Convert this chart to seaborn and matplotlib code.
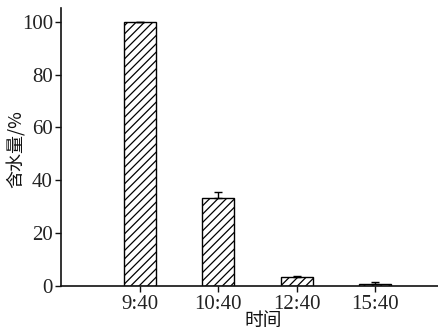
import matplotlib
matplotlib.use("Agg")
import matplotlib.pyplot as plt
import seaborn as sns
import pandas as pd

times = ["9:40", "10:40", "12:40", "15:40"]
water = [100.0, 33.3, 3.5, 1.0]
water_err = [0.0, 2.3, 0.6, 0.5]
yticks = [0, 20, 40, 60, 80, 100]

sns.set_style("ticks")
plt.rcParams["font.family"] = ["Liberation Serif", "Noto Sans CJK SC"]
plt.rcParams["hatch.linewidth"] = 0.9

df = pd.DataFrame({"time": times, "water": water})

fig, ax = plt.subplots(figsize=(4.38, 3.33), dpi=100)
fig.subplots_adjust(left=0.14, right=1.0, bottom=0.14, top=0.975)

sns.barplot(data=df, x="time", y="water", ax=ax, color="white",
            edgecolor="black", linewidth=1.0, width=0.41,
            hatch="////", errorbar=None)

ax.errorbar(range(len(times)), water, yerr=[[0] * len(times), water_err],
            fmt="none", ecolor="black", elinewidth=1.0, capsize=3, capthick=1.0)

ax.set_xlim(-1.0, 3.8)
ax.set_ylim(0, 105)
ax.set_yticks(yticks)
ax.tick_params(axis="both", labelsize=15, direction="out", length=4,
               width=1.0, colors="#111111", labelcolor="#222222", pad=2)
ax.set_xlabel("时间", fontsize=13.5, family=["Noto Sans CJK SC"], color="#111111")
ax.set_ylabel("含水量/%", fontsize=13, family=["Noto Sans CJK SC", "Liberation Serif"],
              color="#111111")
ax.xaxis.set_label_coords(0.535, -0.085)
ax.yaxis.set_label_coords(-0.095, 0.495)
for s in ["top", "right"]:
    ax.spines[s].set_visible(False)
for s in ["left", "bottom"]:
    ax.spines[s].set_linewidth(1.2)
    ax.spines[s].set_color("#111111")

fig.savefig("out.png", dpi=100)
